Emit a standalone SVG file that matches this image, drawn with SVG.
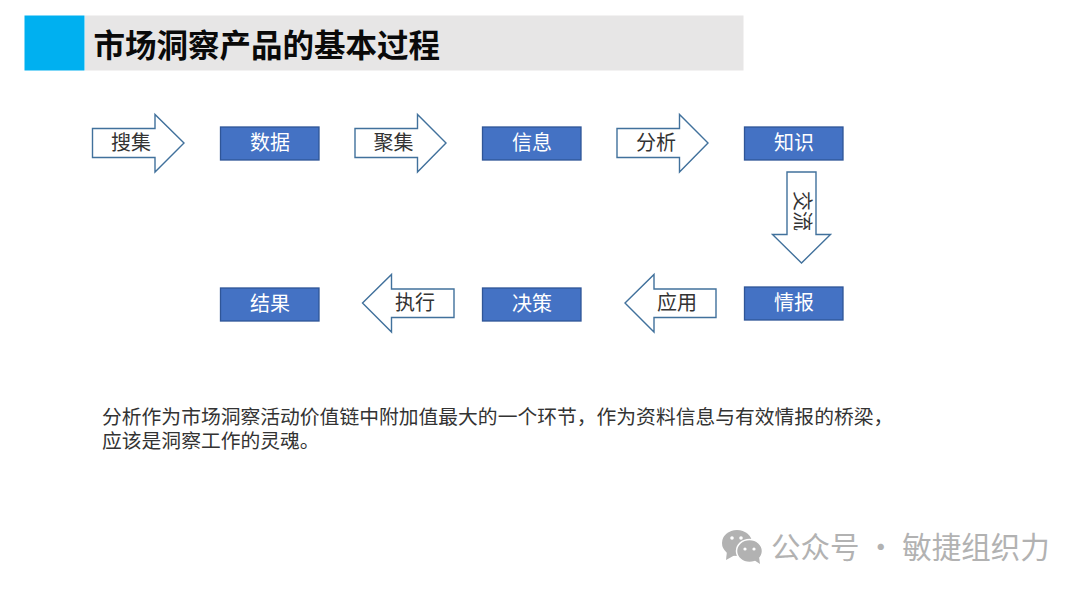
<svg xmlns="http://www.w3.org/2000/svg" width="1080" height="591" viewBox="0 0 1080 591">
<style>
text{font-family:"Noto Sans CJK SC","Noto Sans",sans-serif}
.box{fill:#4472c4;stroke:#2f5597;stroke-width:1.3}
.arr{fill:#fff;stroke:#41719c;stroke-width:1.4}
.bt{fill:#fff;font-size:20px;text-anchor:middle}
.at{fill:#333;font-size:20px;text-anchor:middle}
.body{fill:#333;font-size:19.8px}
.wm{fill:#b2b2b2;font-size:29.5px}
</style>
<rect width="1080" height="591" fill="#fff"/>
<g id="header">
<rect x="24.5" y="15.5" width="60" height="55" fill="#00b0f0"/>
<rect x="85" y="15.5" width="658.5" height="55" fill="#e7e6e6"/>
<text x="93.5" y="57" font-size="31.5" font-weight="700" fill="#0a0a0a">市场洞察产品的基本过程</text>
</g>
<g id="connectors">
<g id="arrow-souji"><polygon class="arr" points="92.5,128.5 155,128.5 155,114.5 184,143 155,172 155,157.5 92.5,157.5"/><text class="at" x="131" y="150">搜集</text></g>
<g id="arrow-juji"><polygon class="arr" points="355,128.5 417.5,128.5 417.5,114.5 446,143 417.5,172 417.5,157.5 355,157.5"/><text class="at" x="393.5" y="150">聚集</text></g>
<g id="arrow-fenxi"><polygon class="arr" points="617,128.5 679.5,128.5 679.5,114.5 708,143 679.5,172 679.5,157.5 617,157.5"/><text class="at" x="656" y="150">分析</text></g>
<g id="arrow-jiaoliu"><polygon class="arr" points="787,172 816,172 816,234.5 830.5,234.5 801.5,263 772.5,234.5 787,234.5"/><text class="at" transform="translate(794.5 211) rotate(90)" x="0" y="0">交流</text></g>
<g id="arrow-yingyong"><polygon class="arr" points="716,289 654,289 654,274.5 625,303 654,332 654,317.5 716,317.5"/><text class="at" x="677" y="310">应用</text></g>
<g id="arrow-zhixing"><polygon class="arr" points="454,289 391.5,289 391.5,274.5 362.5,303 391.5,332 391.5,317.5 454,317.5"/><text class="at" x="415" y="310">执行</text></g>
</g>
<g id="node-shuju"><rect class="box" x="220.5" y="127" width="98.5" height="33"/><text class="bt" x="270" y="150">数据</text></g>
<g id="node-xinxi"><rect class="box" x="482.5" y="127" width="98.5" height="33"/><text class="bt" x="532" y="150">信息</text></g>
<g id="node-zhishi"><rect class="box" x="744.5" y="127" width="98.5" height="33"/><text class="bt" x="794" y="150">知识</text></g>
<g id="node-qingbao"><rect class="box" x="744.5" y="287" width="98.5" height="33"/><text class="bt" x="794" y="310">情报</text></g>
<g id="node-juece"><rect class="box" x="482.5" y="288" width="98.5" height="33"/><text class="bt" x="532" y="311">决策</text></g>
<g id="node-jieguo"><rect class="box" x="220.5" y="288" width="98.5" height="33"/><text class="bt" x="270" y="311">结果</text></g>
<g id="body-text">
<text class="body" x="102" y="423.5">分析作为市场洞察活动价值链中附加值最大的一个环节，作为资料信息与有效情报的桥梁，</text>
<text class="body" x="102" y="448">应该是洞察工作的灵魂。</text>
</g>
<g id="watermark">
<ellipse cx="737" cy="543" rx="15" ry="13" fill="#b2b2b2"/>
<polygon points="727,551 726,560 735,555" fill="#b2b2b2"/>
<ellipse cx="749.5" cy="551" rx="13" ry="11.5" fill="#b2b2b2" stroke="#fff" stroke-width="1.5"/>
<polygon points="754,560 760,564 759,557" fill="#b2b2b2"/>
<circle cx="732" cy="538" r="1.8" fill="#fff"/><circle cx="741" cy="538" r="1.8" fill="#fff"/>
<circle cx="745" cy="549" r="1.6" fill="#fff"/><circle cx="754" cy="549" r="1.6" fill="#fff"/>
<text class="wm" x="771" y="558">公众号 · 敏捷组织力</text>
</g>
</svg>
